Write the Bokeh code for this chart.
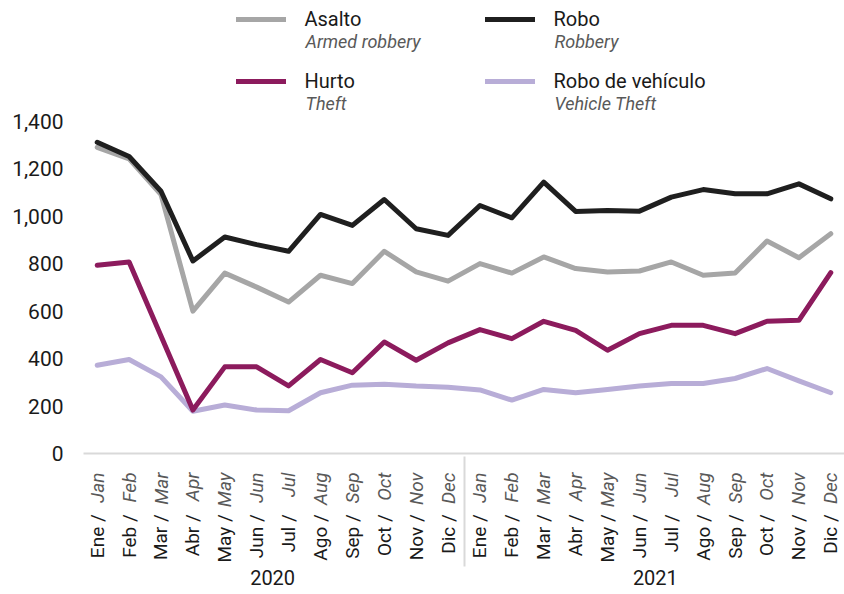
import math
from bokeh.plotting import figure
from bokeh.models import (FactorRange, Range1d, FixedTicker, NumeralTickFormatter,
                          Legend, LegendItem, Label)
from bokeh.embed import file_html
from bokeh.resources import INLINE

# ---------------- data ----------------
years = ["2020", "2021"]
months_es = ["Ene", "Feb", "Mar", "Abr", "May", "Jun", "Jul", "Ago", "Sep", "Oct", "Nov", "Dic"]
months_en = ["Jan", "Feb", "Mar", "Apr", "May", "Jun", "Jul", "Aug", "Sep", "Oct", "Nov", "Dec"]
y_ticks = [0, 200, 400, 600, 800, 1000, 1200, 1400]

asalto = [1290, 1241, 1091, 600, 760, 701, 638, 751, 716, 852, 765, 726,
          800, 760, 828, 779, 765, 769, 807, 751, 760, 895, 825, 926]
robo = [1311, 1251, 1105, 811, 912, 880, 852, 1007, 961, 1070, 947, 919,
        1045, 993, 1143, 1020, 1024, 1021, 1080, 1112, 1094, 1094, 1136, 1073]
hurto = [793, 807, 495, 183, 365, 365, 285, 396, 340, 470, 393, 466,
         522, 484, 557, 519, 435, 505, 540, 540, 505, 557, 561, 762]
vehiculo = [372, 396, 323, 178, 204, 183, 180, 256, 288, 292, 284, 279,
            268, 225, 270, 256, 270, 284, 295, 295, 316, 358, 306, 256]

series_es = ["Asalto", "Robo", "Hurto", "Robo de vehículo"]
series_en = ["Armed robbery", "Robbery", "Theft", "Vehicle Theft"]
series_colors = ["#a6a6a6", "#1f1f1f", "#8c1b5d", "#b8add7"]

# ---------------- layout constants (canvas pixels) ----------------
W, H = 844, 594
PAD = 0.07
FRAME_L, FRAME_R = 83, 844
FRAME_B = 453
TOP_TICK_PX = 120.7                      # where 1,400 sits
Y_MAX = 1400 * FRAME_B / (FRAME_B - TOP_TICK_PX)   # frame reaches canvas top
NF = len(years) * len(months_es)
PX = (FRAME_R - FRAME_L) / (NF - 2 * PAD)
MONTH_FS = 19


def sx(page_x):
    """canvas x -> synthetic categorical coordinate"""
    return PAD + (page_x - FRAME_L) / PX


factors = [(y, es + " /", en) for y in years for es, en in zip(months_es, months_en)]

p = figure(width=W, height=H,
           x_range=FactorRange(*factors, group_padding=0, subgroup_padding=0,
                               range_padding=-PAD, range_padding_units="absolute"),
           y_range=Range1d(0, Y_MAX),
           output_backend="svg", toolbar_location=None,
           min_border_left=FRAME_L, min_border_right=0,
           min_border_top=0, min_border_bottom=H - FRAME_B)
p.extra_y_ranges = {"pagey": Range1d(FRAME_B, 0)}

p.outline_line_color = None
p.xgrid.grid_line_color = None
p.ygrid.grid_line_color = None
p.background_fill_color = "white"
p.border_fill_color = "white"

# y axis
p.yaxis.ticker = FixedTicker(ticks=y_ticks)
p.yaxis.formatter = NumeralTickFormatter(format="0,0")
p.yaxis.axis_line_color = None
p.yaxis.major_tick_line_color = None
p.yaxis.minor_tick_line_color = None
p.yaxis.major_tick_out = 0
p.yaxis.major_label_standoff = 20
p.yaxis.major_label_text_font = "Roboto"
p.yaxis.major_label_text_font_size = "21px"
p.yaxis.major_label_text_color = "#1a1a1a"

# x axis: English (italic grey) / Spanish (upright) / year
xa = p.xaxis[0]
xa.axis_line_color = "#d9d9d9"
xa.axis_line_width = 2
xa.major_tick_line_color = None
xa.major_tick_out = 15
xa.major_label_standoff = 4
xa.major_label_orientation = math.pi / 2
xa.major_label_text_font = "Roboto"
xa.major_label_text_font_style = "italic"
xa.major_label_text_font_size = f"{MONTH_FS}px"
xa.major_label_text_color = "#595959"
xa.subgroup_label_orientation = math.pi / 2
xa.subgroup_text_font = "Roboto"
xa.subgroup_text_font_style = "normal"
xa.subgroup_text_font_size = f"{MONTH_FS}px"
xa.subgroup_text_color = "#1a1a1a"
xa.group_text_font = "Roboto"
xa.group_text_font_size = "20px"
xa.group_text_font_style = "normal"
xa.group_text_color = "#1a1a1a"
xa.separator_line_color = "#d9d9d9"
xa.separator_line_width = 2

# lines
values = {"Asalto": asalto, "Robo": robo, "Hurto": hurto, "Robo de vehículo": vehiculo}
renderers = {}
for name in ["Robo de vehículo", "Asalto", "Hurto", "Robo"]:
    c = series_colors[series_es.index(name)]
    renderers[name] = p.line(x=factors, y=values[name], line_color=c, line_width=5,
                             line_join="round", line_cap="round")

legend = Legend(items=[LegendItem(label=n, renderers=[renderers[n]])
                       for n in ["Asalto", "Hurto", "Robo", "Robo de vehículo"]],
                nrows=2, orientation="vertical",
                location=(152.5, FRAME_B - 98.5),
                glyph_width=50, glyph_height=36, label_height=36, label_width=154,
                label_standoff=19, spacing=26, padding=0, margin=0,
                border_line_color=None, background_fill_alpha=0,
                label_text_font="Roboto", label_text_font_size="20px",
                label_text_color="#1a1a1a")
p.add_layout(legend)

sub_pos = {"Armed robbery": (305, 41), "Robbery": (554, 41),
           "Theft": (305, 103), "Vehicle Theft": (554, 103)}
for t in series_en:
    x, y = sub_pos[t]
    p.add_layout(Label(x=sx(x), y=y, y_range_name="pagey", text=t,
                       text_font="Roboto", text_font_style="italic", text_font_size="18px",
                       text_color="#595959", text_baseline="middle"))

open("out.html", "w").write(file_html(p, INLINE))
